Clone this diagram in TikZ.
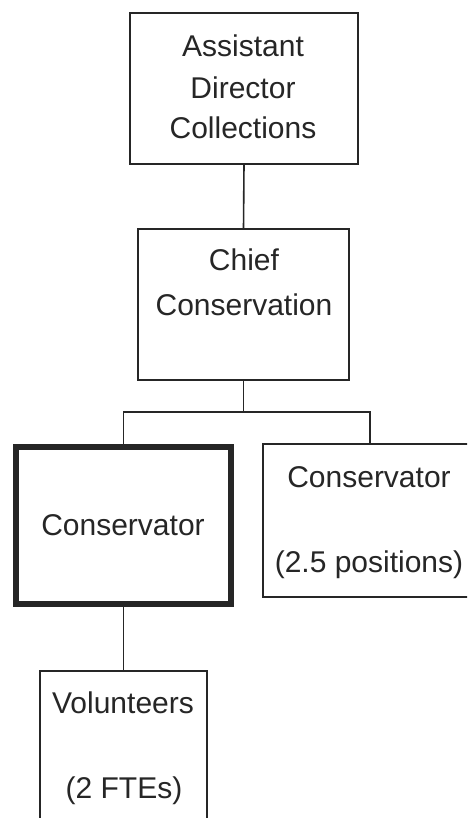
\documentclass[tikz,border=0pt]{standalone}
\usepackage{fontspec}
\setmainfont{Liberation Sans}
\begin{document}
\begin{tikzpicture}[x=1pt,y=1pt,
  box/.style={draw=black!85,line width=1.6pt,inner sep=0pt,outer sep=0pt,fill=white},
  bold/.style={box,line width=6pt},
  lbl/.style={anchor=base,inner sep=0pt,font=\fontsize{30}{41}\selectfont,text=black!85},
  conn/.style={draw=black!85,line width=1.6pt}]
\clip (0,0) rectangle (467,-818);
\fill[white] (0,0) rectangle (467,-818);
% boxes
\node[box,minimum width=228pt,minimum height=151pt] (top) at (244,-88.5) {};
\node[box,minimum width=211pt,minimum height=151pt] (chief) at (243.5,-304.5) {};
\node[bold,minimum width=215pt,minimum height=157pt] (cons1) at (123.5,-525.5) {};
\node[box,minimum width=207pt,minimum height=153pt] (cons2) at (366.5,-520.5) {};
\node[box,minimum width=167pt,minimum height=159pt] (vol) at (123.5,-750.5) {};
% connectors
\draw[conn] (top.south) -- (chief.north);
\draw[conn] (chief.south) -- ++(0,-32) coordinate (bus);
\draw[conn] (bus) -| (cons1.north);
\draw[conn] (bus) -| ([xshift=3.5pt]cons2.north);
\draw[conn] (cons1.south) -- (vol.north);
% labels
\node[lbl] (t1) at (243,-57) {Assistant};
\node[lbl] (t2) at (243,-99) {Director};
\node[lbl] (t3) at (243,-139) {Collections};
\node[lbl] (c1) at (244,-270) {Chief};
\node[lbl] (c2) at (244,-315) {Conservation};
\node[lbl] (l1) at (123,-535) {Conservator};
\node[lbl] (r1) at (369,-487) {Conservator};
\node[lbl] (r2) at (369,-572) {(2.5 positions)};
\node[lbl] (v1) at (123,-713) {Volunteers};
\node[lbl] (v2) at (124,-798) {(2 FTEs)};
\end{tikzpicture}
\end{document}
